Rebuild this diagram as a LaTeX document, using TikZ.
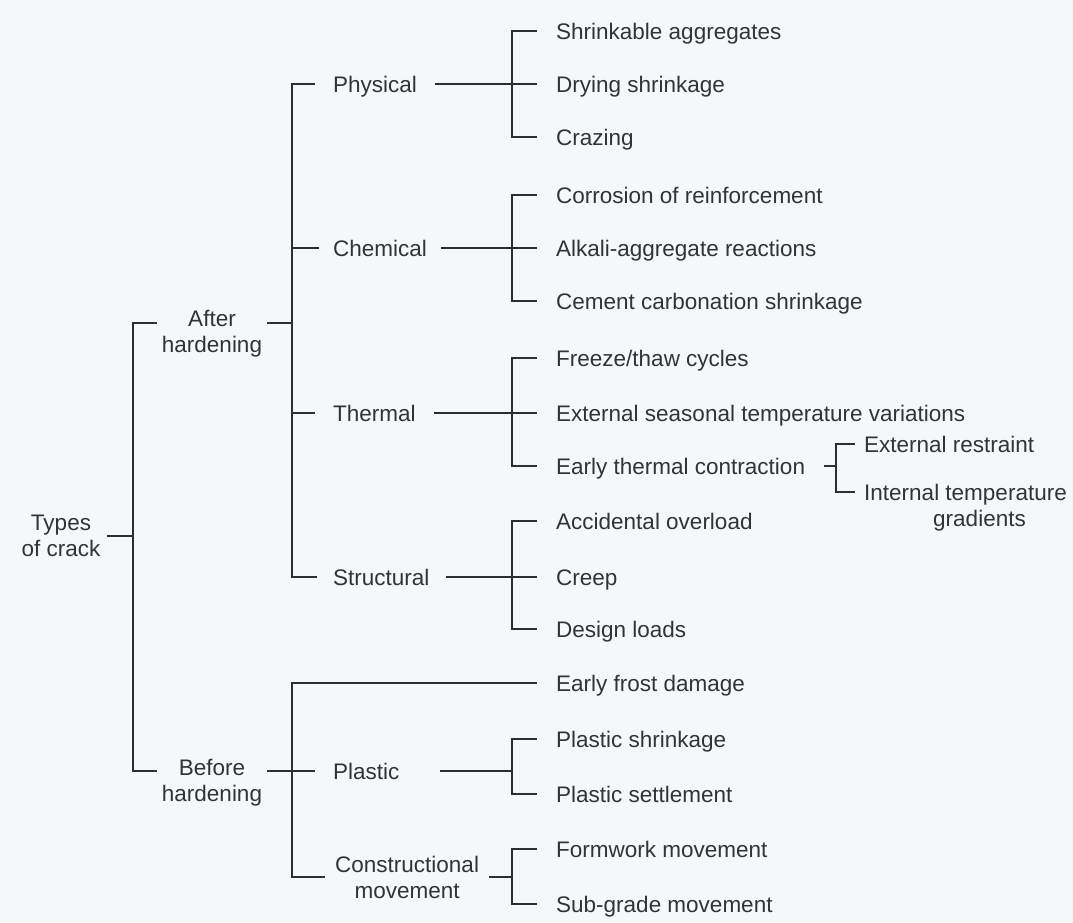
\documentclass[tikz,border=0pt]{standalone}
\usepackage{fontspec}
\newfontfamily\lblfont{Liberation Sans}
\definecolor{bgc}{HTML}{F5F8FA}
\definecolor{txtc}{HTML}{333333}
\definecolor{linec}{HTML}{2E2E2E}
\begin{document}
\begin{tikzpicture}[x=1pt,y=-1pt,
  lbl/.style={font={\lblfont\fontsize{22.5pt}{26pt}\selectfont}, text=txtc, inner ysep=0pt},
  leaf/.style={lbl, anchor=west, inner xsep=19pt, text height=16pt, text depth=0pt},
  mid/.style={lbl, anchor=west, inner xsep=18pt, text height=16pt, text depth=0pt},
  two/.style={lbl, align=center, inner xsep=5pt},
  conn/.style={draw=linec, line width=2.9pt}]
\fill[bgc] (0,0) rectangle (1073,922);
\useasboundingbox (0,0) rectangle (1073,922);

% level 0 and 1
\node[two, inner xsep=6pt] (tc) at (61,536) {Types\\of crack};
\node[two, anchor=north] (ah) at (212,310) {After\\hardening};
\node[two, anchor=north] (bh) at (212,759) {Before\\hardening};

% level 2
\node[mid] (phys) at (315,84) {Physical};
\node[mid, inner xsep=14pt] (chem) at (319,248) {Chemical};
\node[mid] (therm) at (315,413) {Thermal};
\node[mid, inner xsep=16pt] (struc) at (317,577) {Structural};
\node[mid, text width=89pt, align=left] (pl) at (315,771) {Plastic};
\node[two, anchor=west, inner xsep=10pt] (cm) at (325,877) {Constructional\\movement};

% leaves
\node[leaf] (shr) at (537,31) {Shrinkable aggregates};
\node[leaf] (dry) at (537,84) {Drying shrinkage};
\node[leaf] (craz) at (537,137) {Crazing};
\node[leaf] (corr) at (537,195) {Corrosion of reinforcement};
\node[leaf] (alk) at (537,248) {Alkali-aggregate reactions};
\node[leaf] (cem) at (537,301) {Cement carbonation shrinkage};
\node[leaf] (frz) at (537,358) {Freeze/thaw cycles};
\node[leaf] (ext) at (537,413) {External seasonal temperature variations};
\node[leaf] (etc) at (537,466) {Early thermal contraction};
\node[leaf] (acc) at (537,521) {Accidental overload};
\node[leaf] (crp) at (537,577) {Creep};
\node[leaf] (des) at (537,629) {Design loads};
\node[leaf] (frost) at (537,683) {Early frost damage};
\node[leaf] (psh) at (537,739) {Plastic shrinkage};
\node[leaf] (pst) at (537,794) {Plastic settlement};
\node[leaf] (form) at (537,849) {Formwork movement};
\node[leaf] (sub) at (537,904) {Sub-grade movement};

\node[leaf, inner xsep=9pt] (er) at (855,444) {External restraint};
\node[two, anchor=north west, inner xsep=9pt] (itg) at (855,484) {Internal temperature\\\hspace*{28pt}gradients};

% junctions
\coordinate (j0) at (133,536);
\coordinate (jA) at (292,323);
\coordinate (jB) at (292,683);

% level 0 bracket
\draw[conn] (tc.east) -- (j0);
\draw[conn] (ah.north west |- jA) -| (j0) |- (bh.north west |- pl.west);

% after hardening bracket
\draw[conn] (ah.north east |- jA) -- (jA);
\draw[conn] (phys.west) -| (jA) |- (struc.west);
\draw[conn] (chem.west) -- (chem.west -| jA);
\draw[conn] (therm.west) -- (therm.west -| jA);

% before hardening bracket
\draw[conn] (frost.west) -- (jB) |- (cm.west);
\draw[conn] (bh.north east |- pl.west) -- (pl.west);

% leaf brackets
\draw[conn] (shr.west) -- ++(-25,0) |- (craz.west);
\draw[conn] (phys.east) -- (dry.west);
\draw[conn] (corr.west) -- ++(-25,0) |- (cem.west);
\draw[conn] (chem.east) -- (alk.west);
\draw[conn] (frz.west) -- ++(-25,0) |- (etc.west);
\draw[conn] (therm.east) -- (ext.west);
\draw[conn] (acc.west) -- ++(-25,0) |- (des.west);
\draw[conn] (struc.east) -- (crp.west);
\draw[conn] (psh.west) -- ++(-25,0) coordinate (kP) |- (pst.west);
\draw[conn] (pl.east) -- (pl.east -| kP);
\draw[conn] (form.west) -- ++(-25,0) coordinate (kC) |- (sub.west);
\draw[conn] (cm.east) -- (cm.east -| kC);

% small bracket
\draw[conn] (er.west) -- ++(-19,0) coordinate (kS) |- ([yshift=-8pt]itg.north west);
\draw[conn] (etc.east) -- (etc.east -| kS);
\end{tikzpicture}
\end{document}
